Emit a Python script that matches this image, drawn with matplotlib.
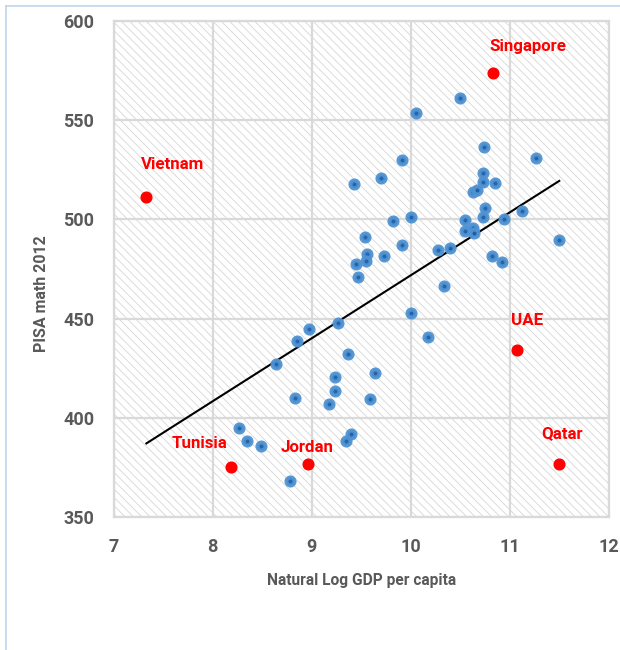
import numpy as np
import matplotlib.pyplot as plt
from matplotlib.patches import Rectangle
from matplotlib.lines import Line2D

# ------------------------------------------------------------
# Data
# ------------------------------------------------------------

# countries sitting on the general cloud
gdp_log = [
    10.50, 10.05, 10.74, 11.27, 9.91, 9.70, 9.43, 10.73, 10.73, 10.85,
    10.63, 10.67, 10.75, 10.73, 11.12, 10.94, 10.00, 9.82, 10.55, 10.55,
    10.63, 10.64, 11.50, 9.54, 9.91, 10.28, 10.40, 9.56, 9.73, 10.82,
    10.92, 9.45, 9.55, 9.47, 10.34, 10.00, 9.27, 10.17, 8.97, 8.85,
    8.64, 9.37, 9.64, 9.24, 9.23, 8.83, 9.17, 9.59, 8.27, 8.35,
    8.49, 9.40, 9.35, 8.78,
]
pisa_math = [
    561.1, 553.7, 536.6, 531.0, 530.0, 520.6, 517.6, 523.2, 518.8, 518.3,
    513.6, 514.8, 505.7, 501.3, 504.3, 500.0, 501.2, 499.1, 499.8, 494.1,
    495.5, 493.0, 489.6, 490.9, 487.1, 484.5, 485.4, 482.3, 481.7, 481.5,
    478.7, 477.3, 479.0, 471.1, 466.6, 453.0, 448.0, 440.6, 444.6, 438.7,
    427.0, 432.0, 422.8, 420.6, 413.5, 409.9, 407.2, 409.5, 394.8, 388.2,
    386.0, 391.9, 388.5, 368.2,
]

# highlighted outliers
outlier_names = ["Vietnam", "Singapore", "Tunisia", "Jordan", "UAE", "Qatar"]
outlier_gdp = [7.33, 10.83, 8.18, 8.96, 11.07, 11.50]
outlier_pisa = [511.4, 573.5, 375.4, 376.8, 434.2, 376.8]
# label offsets in pixels (dx, dy)
label_offsets = [(26, 32), (35, 27), (-31, 23), (-1, 16), (10, 29), (3, 30)]

# linear trend as drawn in the chart
trend_slope = 31.7
trend_intercept = 154.8

x_ticks = [7, 8, 9, 10, 11, 12]
y_ticks = [350, 400, 450, 500, 550, 600]

# ------------------------------------------------------------
# Styling
# ------------------------------------------------------------
plt.rcParams["font.family"] = ["Roboto", "DejaVu Sans"]
plt.rcParams["hatch.linewidth"] = 0.6

GRID = "#D9D9D9"
TEXT = "#595959"
RED = "#FF0000"

fig = plt.figure(figsize=(6.2, 6.5), dpi=100)
ax = fig.add_axes([0.1834, 0.2043, 0.7985, 0.7638])

# hatched plot area
ax.add_patch(Rectangle((0, 0), 1, 1, transform=ax.transAxes, facecolor="white",
                       edgecolor="#D6D6D6", hatch="\\\\\\\\", linewidth=0, zorder=0))

ax.set_xlim(7, 12)
ax.set_ylim(350, 600)
ax.set_xticks(x_ticks)
ax.set_yticks(y_ticks)
ax.grid(True, color=GRID, linewidth=1.6, zorder=1)
ax.set_axisbelow(True)
for s in ax.spines.values():
    s.set_color(GRID)
    s.set_linewidth(1.6)
ax.tick_params(length=0, labelsize=13, labelcolor=TEXT)
ax.tick_params(axis="x", pad=15)
ax.tick_params(axis="y", pad=14)
for lab in ax.get_xticklabels() + ax.get_yticklabels():
    lab.set_fontweight("bold")

ax.set_xlabel("Natural Log GDP per capita", fontsize=11.2, fontweight="bold",
              color=TEXT, labelpad=12)
ax.set_ylabel("PISA math 2012", fontsize=11.5, fontweight="bold", color=TEXT)
ax.yaxis.set_label_coords(-0.131, 0.45)

# trend line across the full range of countries
all_x = np.array(gdp_log + outlier_gdp)
xs = np.array([all_x.min(), all_x.max()])
ax.plot(xs, trend_intercept + trend_slope * xs, color="black", linewidth=1.5, zorder=3)

# main cloud
ax.plot(gdp_log, pisa_math, linestyle="none", marker="o", markersize=5.8,
        markerfacecolor="#1B5CA6", markeredgecolor="#4F93D2",
        markeredgewidth=2.9, alpha=0.95, zorder=4)

# outliers
ax.plot(outlier_gdp, outlier_pisa, linestyle="none", marker="o", markersize=7.7,
        color=RED, zorder=5)
for name, x, y, off in zip(outlier_names, outlier_gdp, outlier_pisa, label_offsets):
    ax.annotate(name, (x, y), xytext=off, textcoords="offset pixels",
                ha="center", va="center", color=RED, fontsize=12.2,
                fontweight="bold", zorder=6)

# light blue chart frame (partially cropped in the original)
frame = "#BDD7EE"
fig.add_artist(Line2D([6 / 620, 1.0], [1 - 6 / 650, 1 - 6 / 650],
                      transform=fig.transFigure, color=frame, linewidth=1.2))
fig.add_artist(Line2D([6 / 620, 6 / 620], [0, 1 - 6 / 650],
                      transform=fig.transFigure, color=frame, linewidth=1.2))

fig.savefig("out.png", dpi=100)
